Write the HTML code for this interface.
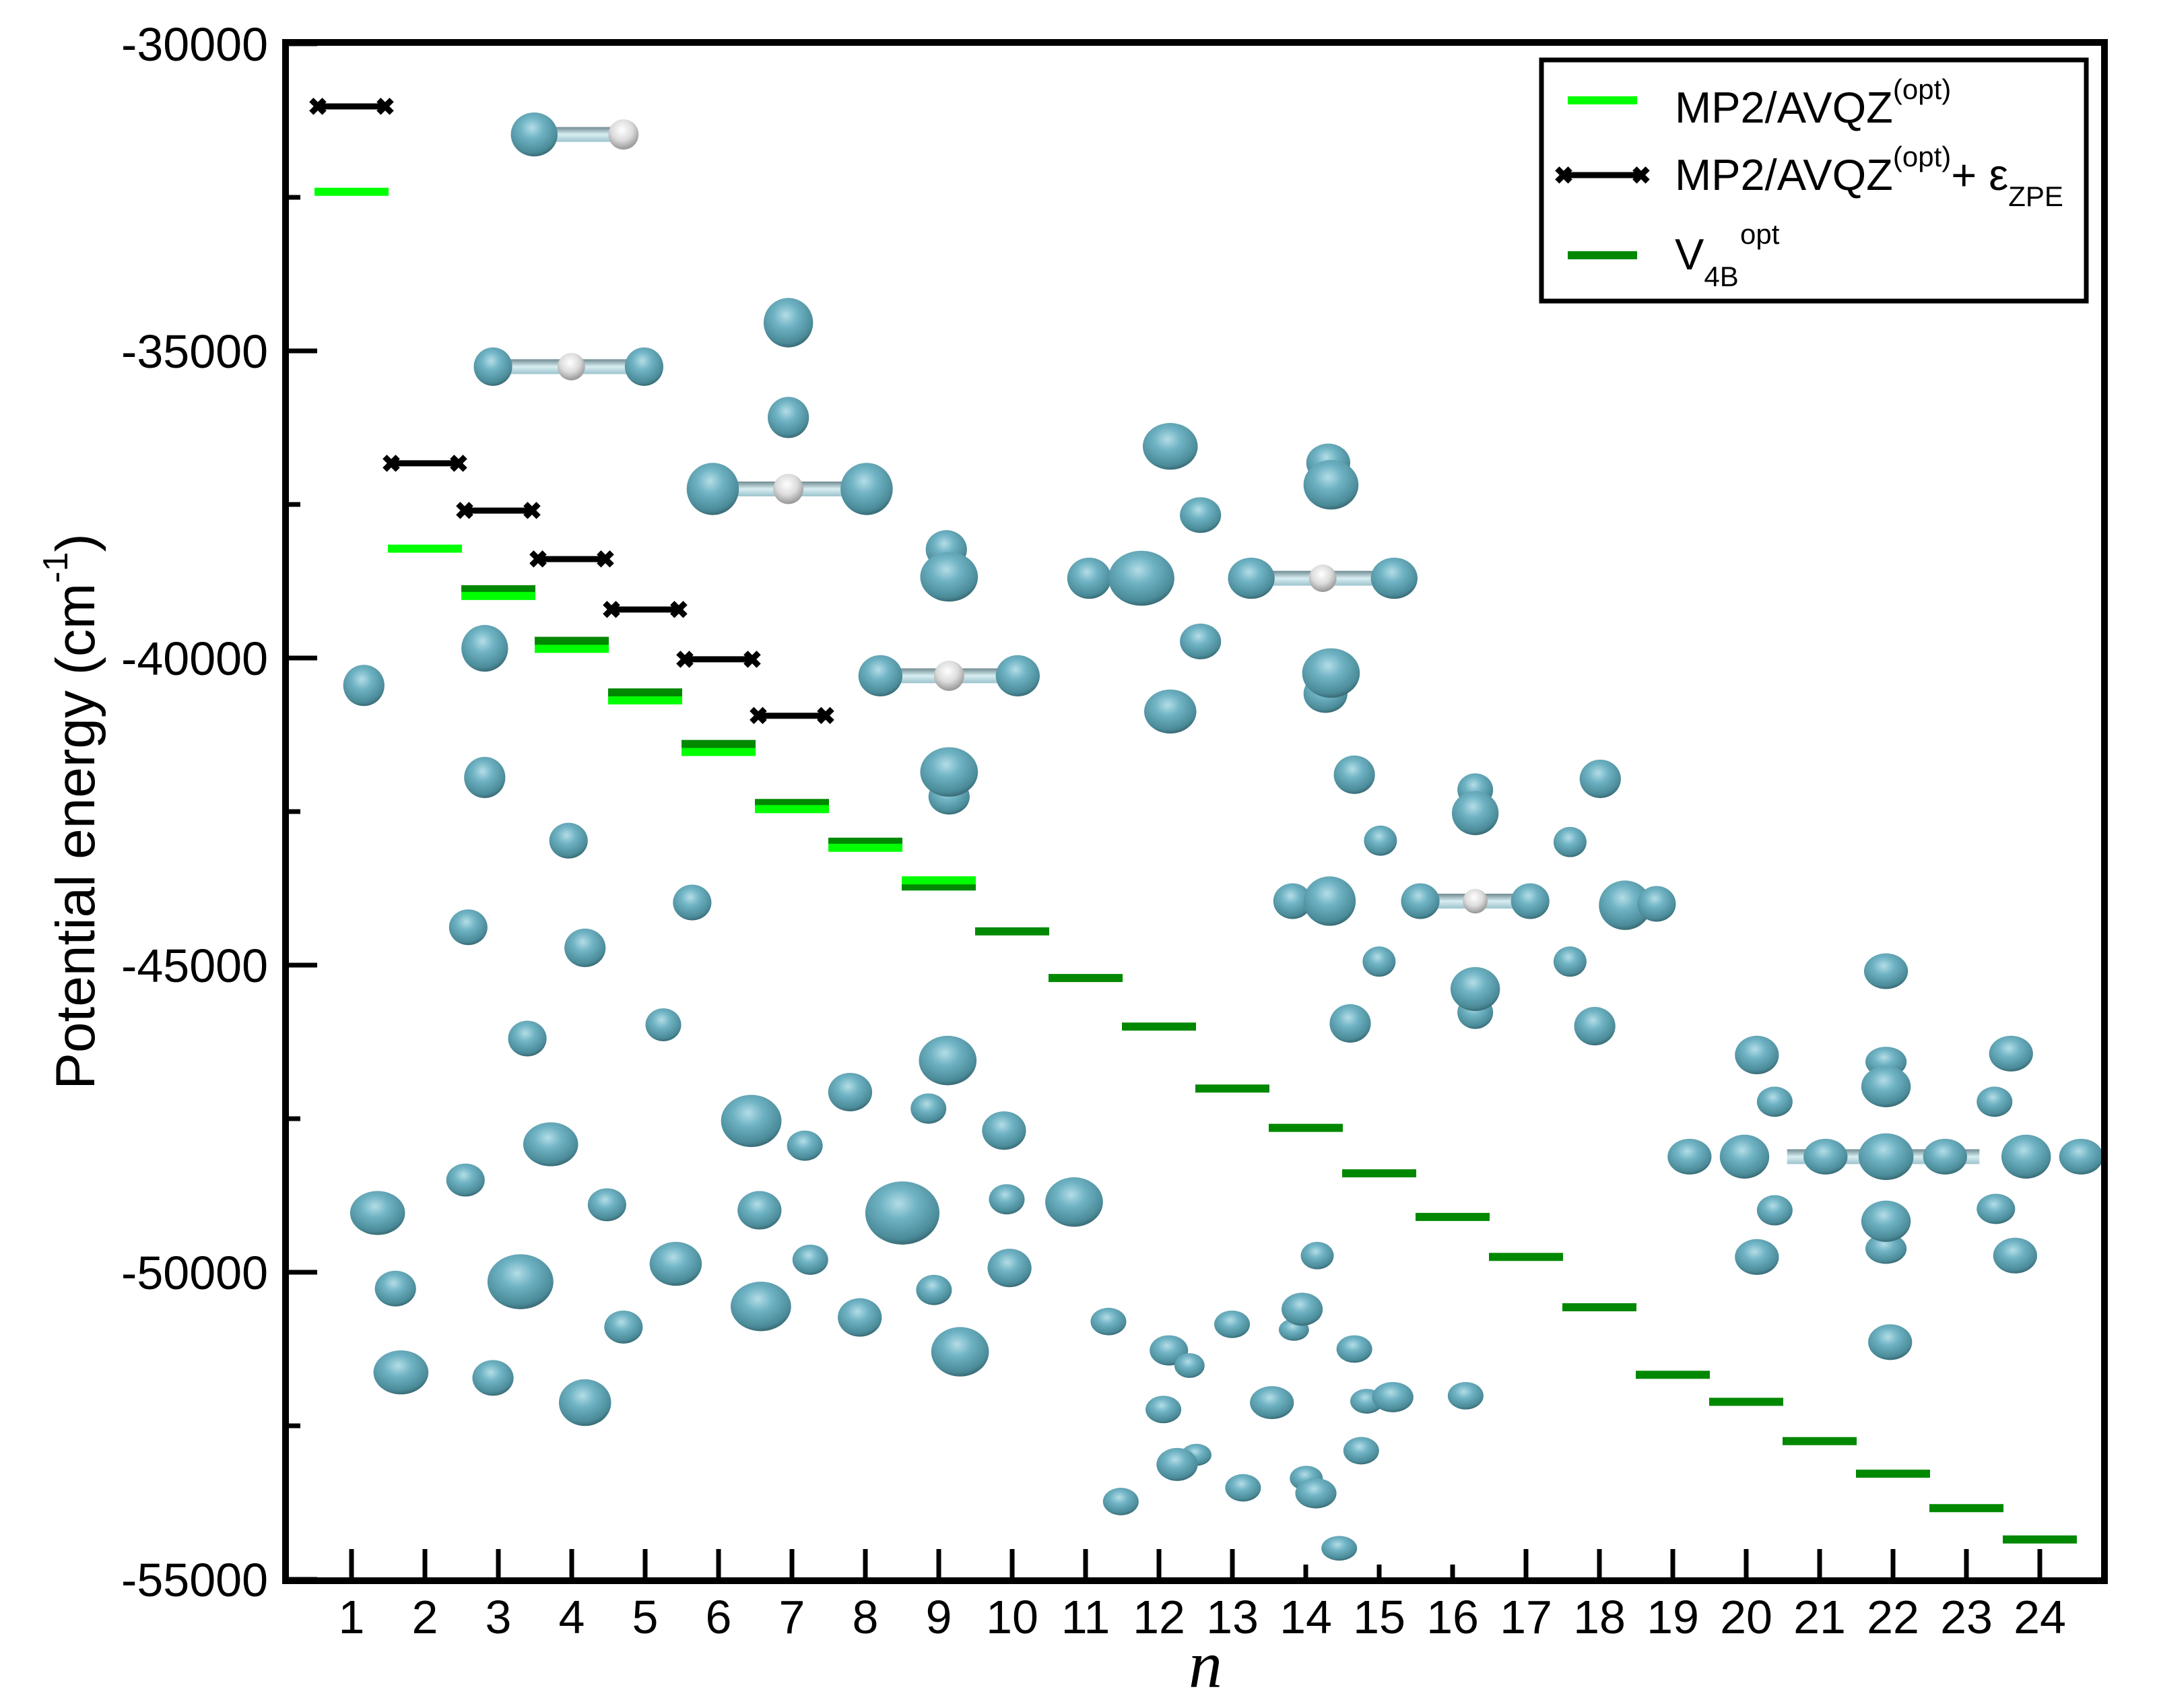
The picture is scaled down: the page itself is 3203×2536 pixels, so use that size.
<!DOCTYPE html>
<html><head><meta charset="utf-8"><style>
html,body{margin:0;padding:0;background:#fff;}
svg{display:block;font-family:"Liberation Sans",sans-serif;}
</style></head><body>
<svg id="chart" width="3203" height="2536" viewBox="0 0 3203 2536" xmlns="http://www.w3.org/2000/svg">
<defs>
<radialGradient id="atom" cx="0.45" cy="0.35" r="0.7">
<stop offset="0" stop-color="#b4dde6"/><stop offset="0.35" stop-color="#6fb3c4"/><stop offset="0.8" stop-color="#4b8b99"/><stop offset="1" stop-color="#2f5962"/></radialGradient>
<radialGradient id="hatom" cx="0.45" cy="0.35" r="0.7">
<stop offset="0" stop-color="#ffffff"/><stop offset="0.5" stop-color="#dcdcdc"/><stop offset="1" stop-color="#8a8a8a"/></radialGradient>
<linearGradient id="rod" x1="0" y1="0" x2="0" y2="1">
<stop offset="0" stop-color="#6f8a90"/><stop offset="0.5" stop-color="#d8eef2"/><stop offset="1" stop-color="#9cc3cc"/></linearGradient>
</defs>
<g id="molecules"></g>
<g id="marks"></g>
<g id="axes"></g>
<g id="legend">
<rect x="2289" y="89" width="809" height="358" fill="#fff" stroke="#000" stroke-width="7"/>
<g>
<line x1="2328" y1="149" x2="2431" y2="149" stroke="#00ff00" stroke-width="12"/>
<text x="2487" y="182" font-size="65">MP2/AVQZ<tspan dy="-35" font-size="42">(opt)</tspan></text>
</g>
<g>
<line x1="2322" y1="260" x2="2437" y2="260" stroke="#000" stroke-width="9"/>
<text x="2322" y="273" font-size="36" text-anchor="middle" font-weight="bold">✖</text>
<text x="2437" y="273" font-size="36" text-anchor="middle" font-weight="bold">✖</text>
<text x="2487" y="282" font-size="65">MP2/AVQZ<tspan dy="-35" font-size="42">(opt)</tspan><tspan dy="35">+ ε</tspan><tspan dy="24" font-size="42">ZPE</tspan></text>
</g>
<g>
<line x1="2328" y1="379" x2="2431" y2="379" stroke="#008800" stroke-width="12"/>
<text x="2487" y="400" font-size="65">V<tspan dy="25" font-size="42">4B</tspan></text>
<text x="2584" y="362" font-size="42">opt</text>
</g>
</g>
</svg>
<script>
// ---- chart data ----
const nCategories = [1,2,3,4,5,6,7,8,9,10,11,12,13,14,15,16,17,18,19,20,21,22,23,24];
const mp2N = [1,2,3,4,5,6,7,8,9];
const mp2Values = [-32410,-38220,-38990,-39850,-40690,-41530,-42460,-43090,-43620];
const zpeN = [1,2,3,4,5,6,7];
const zpeValues = [-31020,-36830,-37600,-38390,-39210,-40020,-40940];
const v4bN = [3,4,5,6,7,8,9,10,11,12,13,14,15,16,17,18,19,20,21,22,23,24];
const v4bValues = [-38880,-39720,-40560,-41400,-42360,-42990,-43720,-44450,-45210,-46000,-47010,-47650,-48390,-49100,-49750,-50570,-51670,-52110,-52750,-53280,-53840,-54350];
const yTickValues = [-30000,-35000,-40000,-45000,-50000,-55000];
const yTickLabels = ["-30000","-35000","-40000","-45000","-50000","-55000"];

const NS = "http://www.w3.org/2000/svg";
const PL = 424, PR = 3125, PT = 63, PB = 2347;
function xScale(n){ return 522 + (n-1)*109; }
function yScale(v){ return 65 + (-30000 - v)/5000*456; }
function mk(tag, attrs, parent){
  const e = document.createElementNS(NS, tag);
  for (const k in attrs) e.setAttribute(k, attrs[k]);
  parent.appendChild(e); return e;
}
const marks = document.getElementById('marks');
const axes = document.getElementById('axes');
const mol = document.getElementById('molecules');

// ---- decorative molecular structures (overview coords -> px) ----
const atoms = [
[388,96,17,16,0],[453,96,11,11,1],
[358,265,14,14,0],[415,265,10,10,1],[468,265,14,14,0],
[518,354,19,19,0],[573,354,11,11,1],[630,354,19,19,0],[573,233,18,18,0],[573,302,15,15,0],
[264,497,15,15,0],[352,470,17,17,0],[352,564,15,15,0],[413,610,14,13,0],[340,673,14,13,0],[425,688,15,14,0],[383,754,14,13,0],[482,744,13,12,0],[503,655,14,13,0],
[274,881,20,16,0],[287,936,15,13,0],[291,997,20,16,0],[338,857,14,12,0],[378,931,24,20,0],[358,1001,15,13,0],[400,831,20,16,0],[441,875,14,12,0],[425,1019,19,17,0],[453,964,14,12,0],[491,918,19,16,0],[546,814,22,19,0],[552,879,16,14,0],[553,949,22,18,0],[585,832,13,11,0],[589,915,13,11,0],[618,793,16,14,0],[625,957,16,14,0],[656,881,27,23,0],[675,805,13,11,0],[679,937,13,11,0],[689,770,21,18,0],[698,982,21,18,0],[730,821,16,14,0],[732,871,13,11,0],[734,921,16,14,0],[781,873,21,18,0],
[688,398,15,14,0],[690,418,21,18,0],[640,490,16,15,0],[690,490,11,11,1],[740,490,16,15,0],[690,578,15,13,0],[690,560,21,18,0],
[851,323,20,17,0],[873,373,15,13,0],[792,419,16,15,0],[830,419,24,20,0],[873,465,15,13,0],[851,516,19,16,0],[910,419,17,15,0],[962,419,10,10,1],[1014,419,17,15,0],[966,335,16,14,0],[968,351,20,18,0],[964,503,16,14,0],[968,488,21,18,0],
[985,562,15,14,0],[1004,610,12,11,0],[940,654,14,13,0],[967,654,19,18,0],[1033,654,14,13,0],[1073,654,9,9,1],[1113,654,14,13,0],[1073,573,13,12,0],[1073,590,17,16,0],[1073,735,13,12,0],[1073,718,18,16,0],[1003,698,12,11,0],[982,743,15,14,0],[1142,611,12,11,0],[1164,565,15,14,0],[1182,657,19,18,0],[1205,656,14,13,0],[1142,698,12,11,0],[1160,745,15,14,0],
[806,960,13,10,0],[850,981,14,11,0],[865,992,11,9,0],[846,1024,13,10,0],[870,1057,11,8,0],[856,1064,15,12,0],[815,1091,13,10,0],[896,962,13,10,0],[904,1081,13,10,0],[925,1019,16,12,0],[958,912,12,10,0],[941,966,11,8,0],[947,951,15,12,0],[950,1074,12,9,0],[957,1085,15,11,0],[974,1125,13,9,0],[985,980,13,10,0],[994,1018,12,9,0],[1013,1015,15,11,0],[990,1054,13,10,0],[1066,1014,13,10,0],
[1278,766,16,14,0],[1291,800,13,11,0],[1229,840,16,13,0],[1269,840,18,16,0],[1291,879,13,11,0],[1278,913,16,13,0],[1328,840,16,13,0],[1415,840,16,13,0],[1372,705,16,13,0],[1372,771,15,11,0],[1372,789,18,15,0],[1372,907,15,11,0],[1372,887,18,15,0],[1375,975,16,13,0],[1463,765,16,13,0],[1451,800,13,11,0],[1452,878,14,11,0],[1466,912,16,13,0],[1474,840,18,16,0],[1514,840,16,13,0],[1372,840,20,17,0]
];
const rods = [[388,453,96],[358,468,265],[518,630,354],[640,740,490],[910,1014,419],[1033,1113,654],[1300,1440,840]];
function ox(v){ return 424 + (v-207)*2.04; }
function oy(v){ return 65 + (v-30)*2.04; }
rods.forEach(r=>{
  const e = mk('rect',{x:ox(r[0]),y:oy(r[2])-11,width:(r[1]-r[0])*2.04,height:22,fill:'url(#rod)'},mol);
  
  
});
atoms.forEach(a=>{
  const e = mk('ellipse',{cx:ox(a[0]),cy:oy(a[1]),rx:a[2]*2.04,ry:a[3]*2.04,fill:a[4]?'url(#hatom)':'url(#atom)'},mol);
  
  
});

// ---- energy levels ----
v4bN.forEach((n,i)=>{
  const e = mk('line',{x1:xScale(n)-55,x2:xScale(n)+55,y1:yScale(v4bValues[i]),y2:yScale(v4bValues[i]),stroke:'#008800','stroke-width':12},marks);
  
  
});
mp2N.forEach((n,i)=>{
  const e = mk('line',{x1:xScale(n)-55,x2:xScale(n)+55,y1:yScale(mp2Values[i]),y2:yScale(mp2Values[i]),stroke:'#00ff00','stroke-width':12},marks);
  
  
});
zpeN.forEach((n,i)=>{
  const y = yScale(zpeValues[i]);
  const e = mk('line',{x1:xScale(n)-50,x2:xScale(n)+50,y1:y,y2:y,stroke:'#000','stroke-width':9},marks);
  
  
  [-50,50].forEach(d=>{
    const t = mk('text',{x:xScale(n)+d,y:y+13,'font-size':36,'text-anchor':'middle','font-weight':'bold'},marks);
    t.textContent = '✖';
    
    
  });
});

// ---- axes ----
const frame = mk('rect',{x:PL,y:PT,width:PR-PL,height:PB-PT,fill:'none',stroke:'#000','stroke-width':10},axes);


for (let v=-30000; v>=-55000; v-=2500){
  const major = (v % 5000 === 0);
  const y = yScale(v);
  const t = mk('line',{x1:PL,x2:PL+(major?47:22),y1:y,y2:y,stroke:'#000','stroke-width':7},axes);
  
  
}
yTickValues.forEach((v,i)=>{
  const t = mk('text',{x:398,y:yScale(v)+25,'font-size':70,'text-anchor':'end'},axes);
  t.textContent = yTickLabels[i];
  
  
});
nCategories.forEach(n=>{
  const short = (n>=14 && n<=16);
  const t = mk('line',{x1:xScale(n),x2:xScale(n),y1:PB,y2:PB-(short?24:47),stroke:'#000','stroke-width':7},axes);
  
  
  const l = mk('text',{x:xScale(n),y:2425,'font-size':70,'text-anchor':'middle'},axes);
  l.textContent = String(n);
  
  
});
const xt = mk('text',{x:1790,y:2505,'font-size':100,'font-style':'italic','font-family':'Liberation Serif, serif','text-anchor':'middle'},axes);
xt.textContent = 'n';


const yt = mk('text',{x:0,y:0,'font-size':82,'text-anchor':'middle',transform:'translate(140,1205) rotate(-90)'},axes);


yt.innerHTML = 'Potential energy  (cm<tspan dy="-40" font-size="52">-1</tspan><tspan dy="40">)</tspan>';
</script>
</body></html>
